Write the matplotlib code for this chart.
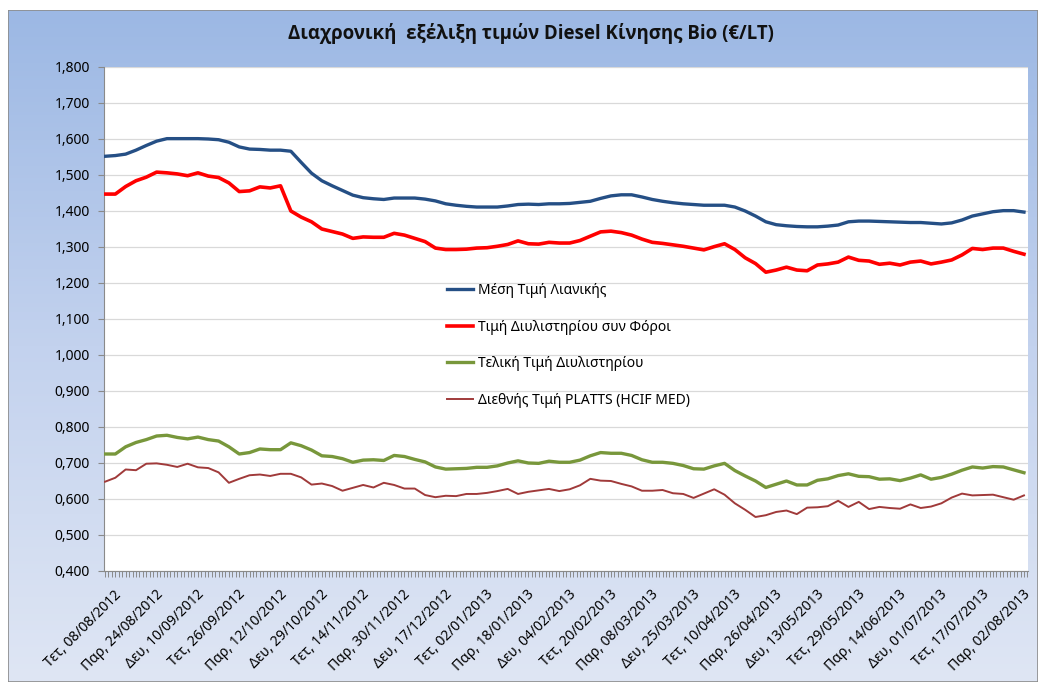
import numpy as np
import matplotlib.pyplot as plt
from matplotlib.ticker import MultipleLocator, FuncFormatter, FixedLocator
from matplotlib.transforms import ScaledTranslation
from matplotlib.colors import LinearSegmentedColormap
from matplotlib.patches import Rectangle

plt.rcParams['font.family'] = ['Noto Sans', 'DejaVu Sans']

title = "Διαχρονική  εξέλιξη τιμών Diesel Κίνησης Bio (€/LT)"

# date labels shown on the category axis (one every 4 samples)
date_labels = [
    "Τετ, 08/08/2012", "Παρ, 24/08/2012", "Δευ, 10/09/2012", "Τετ, 26/09/2012",
    "Παρ, 12/10/2012", "Δευ, 29/10/2012", "Τετ, 14/11/2012", "Παρ, 30/11/2012",
    "Δευ, 17/12/2012", "Τετ, 02/01/2013", "Παρ, 18/01/2013", "Δευ, 04/02/2013",
    "Τετ, 20/02/2013", "Παρ, 08/03/2013", "Δευ, 25/03/2013", "Τετ, 10/04/2013",
    "Παρ, 26/04/2013", "Δευ, 13/05/2013", "Τετ, 29/05/2013", "Παρ, 14/06/2013",
    "Δευ, 01/07/2013", "Τετ, 17/07/2013", "Παρ, 02/08/2013",
]

series_names = [
    "Μέση Τιμή Λιανικής",
    "Τιμή Διυλιστηρίου συν Φόροι",
    "Τελική Τιμή Διυλιστηρίου",
    "Διεθνής Τιμή PLATTS (HCIF MED)",
]

# values, (about) every 3 trading days
retail = [
    1.552, 1.554, 1.558, 1.569, 1.582, 1.594, 1.601, 1.601, 1.601, 1.601,
    1.600, 1.598, 1.591, 1.578, 1.572, 1.571, 1.569, 1.569, 1.566, 1.535,
    1.505, 1.484, 1.470, 1.457, 1.444, 1.437, 1.434, 1.432, 1.436, 1.436,
    1.436, 1.433, 1.428, 1.420, 1.416, 1.413, 1.411, 1.411, 1.411, 1.414,
    1.418, 1.419, 1.418, 1.420, 1.420, 1.421, 1.424, 1.427, 1.435, 1.442,
    1.445, 1.445, 1.439, 1.432, 1.427, 1.423, 1.420, 1.418, 1.416, 1.416,
    1.416, 1.411, 1.400, 1.386, 1.370, 1.362, 1.359, 1.357, 1.356, 1.356,
    1.358, 1.361, 1.370, 1.372, 1.372, 1.371, 1.370, 1.369, 1.368, 1.368,
    1.366, 1.364, 1.367, 1.375, 1.386, 1.392, 1.398, 1.401, 1.401, 1.397,
]

refinery_tax = [
    1.447, 1.447, 1.468, 1.484, 1.494, 1.508, 1.506, 1.503, 1.498, 1.506,
    1.497, 1.493, 1.478, 1.454, 1.456, 1.467, 1.464, 1.470, 1.400, 1.383,
    1.370, 1.350, 1.343, 1.336, 1.324, 1.328, 1.327, 1.327, 1.338, 1.333,
    1.324, 1.315, 1.297, 1.293, 1.293, 1.294, 1.297, 1.298, 1.302, 1.307,
    1.317, 1.309, 1.308, 1.313, 1.311, 1.311, 1.318, 1.330, 1.342, 1.344,
    1.340, 1.333, 1.322, 1.313, 1.310, 1.306, 1.302, 1.297, 1.292, 1.301,
    1.309, 1.293, 1.270, 1.254, 1.230, 1.236, 1.244, 1.236, 1.234, 1.250,
    1.253, 1.258, 1.272, 1.263, 1.261, 1.252, 1.255, 1.250, 1.258, 1.261,
    1.253, 1.258, 1.264, 1.278, 1.296, 1.293, 1.297, 1.297, 1.288, 1.280,
]

refinery = [
    0.725, 0.725, 0.745, 0.757, 0.765, 0.775, 0.777, 0.771, 0.767, 0.772,
    0.765, 0.761, 0.745, 0.725, 0.729, 0.739, 0.737, 0.737, 0.756, 0.748,
    0.736, 0.720, 0.718, 0.712, 0.702, 0.708, 0.709, 0.707, 0.721, 0.718,
    0.710, 0.703, 0.689, 0.683, 0.684, 0.685, 0.688, 0.688, 0.692, 0.700,
    0.706, 0.700, 0.699, 0.705, 0.702, 0.702, 0.708, 0.720, 0.729, 0.727,
    0.727, 0.721, 0.709, 0.702, 0.702, 0.699, 0.693, 0.684, 0.683, 0.692,
    0.699, 0.679, 0.664, 0.650, 0.632, 0.641, 0.650, 0.639, 0.639, 0.652,
    0.656, 0.665, 0.670, 0.663, 0.662, 0.655, 0.656, 0.651, 0.658, 0.667,
    0.655, 0.660, 0.669, 0.680, 0.689, 0.686, 0.690, 0.689, 0.681, 0.673,
]

platts = [
    0.648, 0.659, 0.682, 0.680, 0.698, 0.699, 0.695, 0.689, 0.698, 0.688,
    0.686, 0.674, 0.645, 0.656, 0.666, 0.668, 0.664, 0.670, 0.670, 0.660,
    0.640, 0.643, 0.636, 0.623, 0.631, 0.639, 0.632, 0.645, 0.639, 0.629,
    0.629, 0.611, 0.605, 0.609, 0.608, 0.614, 0.614, 0.617, 0.622, 0.628,
    0.614, 0.620, 0.624, 0.628, 0.622, 0.627, 0.638, 0.656, 0.651, 0.650,
    0.642, 0.635, 0.623, 0.623, 0.625, 0.616, 0.614, 0.603, 0.615, 0.627,
    0.612, 0.588, 0.570, 0.550, 0.555, 0.564, 0.568, 0.558, 0.576, 0.577,
    0.580, 0.595, 0.578, 0.592, 0.572, 0.578, 0.575, 0.573, 0.585, 0.575,
    0.579, 0.588, 0.604, 0.615, 0.610, 0.611, 0.612, 0.605, 0.598, 0.610,
]

W, H = 1038, 684
fig = plt.figure(figsize=(W / 100, H / 100), dpi=100)

# gradient background panel
bg = fig.add_axes([8 / W, 2 / H, 1 - 8 / W, 1 - 12 / H])
grad_cmap = LinearSegmentedColormap.from_list("bg", ["#dfe6f4", "#c3d2ee", "#9cb8e4"])
bg.imshow(np.linspace(0, 1, 256).reshape(-1, 1), aspect="auto", cmap=grad_cmap,
          origin="lower", extent=[0, 1, 0, 1])
bg.add_patch(Rectangle((0, 0), 1, 1, transform=bg.transAxes, fill=False,
                       edgecolor="#8c8c8c", linewidth=1.2))
bg.set_xlim(0, 1)
bg.set_ylim(0, 1)
bg.axis("off")

fig.text(531 / W, 1 - 34 / H, title, ha="center", va="center",
         fontsize=13.4, fontweight="bold", color="#111111",
         family=["Open Sans", "DejaVu Sans"])

ax = fig.add_axes([104 / W, 1 - 571 / H, 924 / W, 504 / H])
ax.set_facecolor("white")

x = np.arange(len(retail))
ax.plot(x, retail, color="#254f85", lw=2.4, label=series_names[0], zorder=4)
ax.plot(x, refinery_tax, color="#ff0000", lw=2.6, label=series_names[1], zorder=3)
ax.plot(x, refinery, color="#78973b", lw=2.4, label=series_names[2], zorder=3)
ax.plot(x, platts, color="#a03a3a", lw=1.4, label=series_names[3], zorder=3)

ax.set_xlim(-0.097, 89.39)
ax.set_ylim(0.4, 1.8)
ax.yaxis.set_major_locator(MultipleLocator(0.1))
ax.yaxis.set_major_formatter(FuncFormatter(lambda v, p: f"{v:.3f}".replace(".", ",")))
ax.grid(axis="y", color="#d9d9d9", lw=0.9)
ax.set_axisbelow(True)

label_pos = np.arange(len(date_labels)) * 4
ax.xaxis.set_major_locator(FixedLocator(label_pos))
ax.set_xticklabels(date_labels)
ax.xaxis.set_minor_locator(MultipleLocator(1 / 3))

for side in ["top", "right"]:
    ax.spines[side].set_visible(False)
ax.spines["left"].set_color("#8a8a8a")
ax.spines["bottom"].set_color("#8a8a8a")

ax.tick_params(axis="y", length=4, color="#8a8a8a", labelsize=10, pad=6)
ax.tick_params(axis="x", which="both", length=4, color="#8a8a8a", width=0.7,
               labelsize=10, pad=2)
offset = ScaledTranslation(0.09, -0.08, fig.dpi_scale_trans)
for lbl in ax.get_xticklabels():
    lbl.set_rotation(45)
    lbl.set_ha("right")
    lbl.set_va("top")
    lbl.set_rotation_mode("anchor")
    lbl.set_transform(lbl.get_transform() + offset)

ax.legend(loc="upper left", bbox_to_anchor=(447 / W, 1 - 283 / H),
          bbox_transform=fig.transFigure, frameon=False, fontsize=10,
          handlelength=1.9, handletextpad=0.3, labelspacing=1.55,
          borderpad=0, borderaxespad=0)

fig.savefig("out.png", dpi=100)
